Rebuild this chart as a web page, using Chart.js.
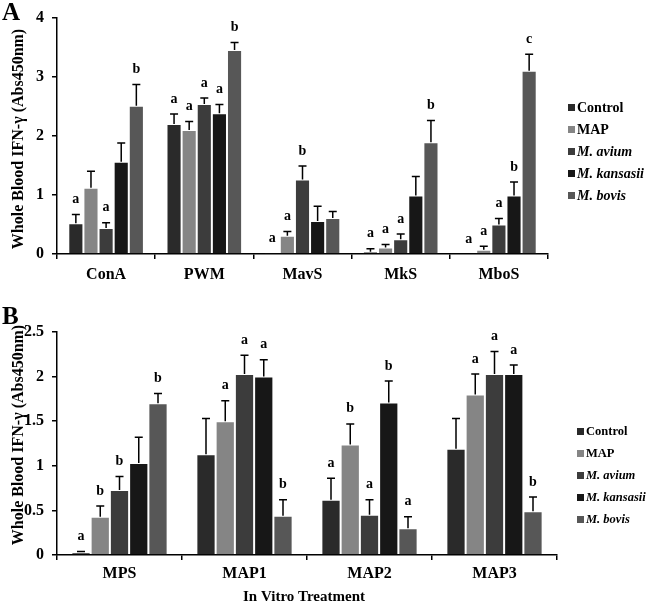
<!DOCTYPE html>
<html>
<head>
<meta charset="utf-8">
<script src="https://cdn.jsdelivr.net/npm/chart.js@4"></script>
<style>
  body { margin: 0; background: #fff; }
  #wrapA { position: absolute; left: 0; top: 0; width: 650px; height: 290px; }
  #wrapB { position: absolute; left: 0; top: 290px; width: 650px; height: 314px; }
</style>
</head>
<body>
<div id="wrapA"><canvas id="chartA"></canvas></div>
<div id="wrapB"><canvas id="chartB"></canvas></div>
<script>
// ---- data ----
var seriesNames = ['Control', 'MAP', 'M. avium', 'M. kansasii', 'M. bovis'];
var seriesColors = ['#2a2a2a', '#858585', '#3c3c3c', '#171717', '#575757'];

// panel A
var stimA = ['ConA', 'PWM', 'MavS', 'MkS', 'MboS'];
var yTicksA = ['0', '1', '2', '3', '4'];
var controlA  = [0.52, 2.20, 0.01, 0.04, 0.00];
var mapA      = [1.12, 2.10, 0.31, 0.11, 0.07];
var aviumA    = [0.44, 2.54, 1.26, 0.25, 0.50];
var kansasiiA = [1.56, 2.38, 0.56, 0.99, 0.99];
var bovisA    = [2.51, 3.45, 0.61, 1.89, 3.10];
// error bars (upper only)
var controlErrA  = [0.15, 0.17, 0.00, 0.05, 0.00];
var mapErrA      = [0.28, 0.14, 0.07, 0.05, 0.06];
var aviumErrA    = [0.09, 0.10, 0.23, 0.09, 0.10];
var kansasiiErrA = [0.32, 0.15, 0.25, 0.32, 0.23];
var bovisErrA    = [0.36, 0.13, 0.11, 0.37, 0.28];
// significance letters
var controlLetA  = ['a', 'a', 'a', 'a', 'a'];
var mapLetA      = ['',  'a', 'a', 'a', 'a'];
var aviumLetA    = ['a', 'a', 'b', 'a', 'a'];
var kansasiiLetA = ['',  'a', '',  '',  'b'];
var bovisLetA    = ['b', 'b', '',  'b', 'c'];

// panel B
var stimB = ['MPS', 'MAP1', 'MAP2', 'MAP3'];
var yTicksB = ['0', '0.5', '1', '1.5', '2', '2.5'];
var controlB  = [0.03, 1.13, 0.62, 1.19];
var mapB      = [0.43, 1.50, 1.24, 1.80];
var aviumB    = [0.73, 2.03, 0.45, 2.03];
var kansasiiB = [1.03, 2.00, 1.71, 2.03];
var bovisB    = [1.70, 0.44, 0.30, 0.49];
var controlErrB  = [0.01, 0.40, 0.24, 0.34];
var mapErrB      = [0.12, 0.23, 0.23, 0.23];
var aviumErrB    = [0.15, 0.21, 0.17, 0.25];
var kansasiiErrB = [0.29, 0.19, 0.24, 0.10];
var bovisErrB    = [0.11, 0.18, 0.13, 0.16];
var controlLetB  = ['a', '',  'a', ''];
var mapLetB      = ['b', 'a', 'b', 'a'];
var aviumLetB    = ['b', 'a', 'a', 'a'];
var kansasiiLetB = ['',  'a', 'b', 'a'];
var bovisLetB    = ['b', 'b', 'a', 'b'];

var serif = "'Liberation Serif', 'Times New Roman', serif";

// draws error bars, letters, legend and titles
var decorPlugin = {
  id: 'decor',
  afterDatasetsDraw: function(chart) {
    var ctx = chart.ctx;
    var p = chart.options.plugins.decor;
    var yScale = chart.scales.y;
    ctx.save();
    chart.data.datasets.forEach(function(ds, i) {
      var meta = chart.getDatasetMeta(i);
      meta.data.forEach(function(bar, j) {
        var err = ds.errors[j];
        var yTop = yScale.getPixelForValue(ds.data[j] + err);
        if (err > 0) {
          ctx.strokeStyle = '#000';
          ctx.lineWidth = 1.5;
          ctx.beginPath();
          ctx.moveTo(bar.x, bar.y);
          ctx.lineTo(bar.x, yTop);
          ctx.moveTo(bar.x - 4, yTop);
          ctx.lineTo(bar.x + 4, yTop);
          ctx.stroke();
        }
        if (ds.letters[j]) {
          ctx.fillStyle = '#000';
          ctx.font = 'bold 14px ' + serif;
          ctx.textAlign = 'center';
          ctx.textBaseline = 'middle';
          ctx.fillText(ds.letters[j], bar.x, yTop - 15);
        }
      });
    });

    // legend
    chart.data.datasets.forEach(function(ds, i) {
      var y = p.legendY + i * p.legendGap;
      ctx.fillStyle = ds.backgroundColor;
      ctx.fillRect(p.legendX, y - 4, 7, 7);
      ctx.fillStyle = '#000';
      ctx.font = (i >= 2 ? 'italic ' : '') + 'bold ' + p.legendSize + 'px ' + serif;
      ctx.textAlign = 'left';
      ctx.textBaseline = 'middle';
      ctx.fillText(ds.label, p.legendX + 9, y);
    });

    // panel letter
    ctx.font = 'bold 25px ' + serif;
    ctx.textAlign = 'left';
    ctx.textBaseline = 'top';
    ctx.fillText(p.panel, 2, p.panelY);

    // y title
    ctx.save();
    ctx.translate(19, p.yTitleY);
    ctx.rotate(-Math.PI / 2);
    ctx.font = 'bold 16px ' + serif;
    ctx.textAlign = 'center';
    ctx.textBaseline = 'middle';
    ctx.fillText('Whole Blood IFN-\u03b3 (Abs450nm)', 0, 0);
    ctx.restore();

    if (p.xTitle) {
      ctx.font = 'bold 15px ' + serif;
      ctx.textAlign = 'center';
      ctx.textBaseline = 'middle';
      ctx.fillText(p.xTitle, 304, p.xTitleY);
    }
    ctx.restore();
  }
};

function buildDatasets(values, errors, letters) {
  return seriesNames.map(function(name, i) {
    return {
      label: name,
      data: values[i],
      errors: errors[i],
      letters: letters[i],
      backgroundColor: seriesColors[i],
      borderColor: 'rgba(255,255,255,0.35)',
      borderWidth: 1,
      categoryPercentage: 0.77,
      barPercentage: 1.0
    };
  });
}

function makePanel(id, labels, datasets, yMax, step, yTicks, layout, decor) {
  var ctx = document.getElementById(id).getContext('2d');
  return new Chart(ctx, {
    type: 'bar',
    data: { labels: labels, datasets: datasets },
    plugins: [decorPlugin],
    options: {
      responsive: true,
      maintainAspectRatio: false,
      animation: false,
      layout: { padding: { left: 0, top: layout.top, right: layout.right, bottom: 0 } },
      plugins: {
        legend: { display: false },
        tooltip: { enabled: false },
        decor: decor
      },
      scales: {
        x: {
          afterFit: function(scale) { scale.height = layout.xHeight; },
          grid: { display: true, drawOnChartArea: false, drawTicks: true, tickLength: 5, color: '#000', lineWidth: 1.5 },
          border: { display: true, color: '#000', width: 1.5 },
          ticks: { color: '#000', font: { family: serif, size: 16, weight: 'bold' }, padding: layout.xPad }
        },
        y: {
          min: 0,
          max: yMax,
          afterFit: function(scale) { scale.width = 57; },
          grid: { display: true, drawOnChartArea: false, drawTicks: true, tickLength: 5, color: '#000', lineWidth: 1.5 },
          border: { display: true, color: '#000', width: 1.5 },
          ticks: {
            stepSize: step,
            color: '#000',
            padding: 8,
            font: { family: serif, size: 16, weight: 'bold' },
            callback: function(v, idx) { return yTicks[idx]; }
          }
        }
      }
    }
  });
}

makePanel('chartA', stimA,
  buildDatasets([controlA, mapA, aviumA, kansasiiA, bovisA],
                [controlErrA, mapErrA, aviumErrA, kansasiiErrA, bovisErrA],
                [controlLetA, mapLetA, aviumLetA, kansasiiLetA, bovisLetA]),
  4, 1, yTicksA,
  { top: 15, right: 102, xHeight: 36, xPad: 6 },
  { panel: 'A', panelY: 1, yTitleY: 139, legendX: 568, legendY: 108, legendGap: 22, legendSize: 14 });

makePanel('chartB', stimB,
  buildDatasets([controlB, mapB, aviumB, kansasiiB, bovisB],
                [controlErrB, mapErrB, aviumErrB, kansasiiErrB, bovisErrB],
                [controlLetB, mapLetB, aviumLetB, kansasiiLetB, bovisLetB]),
  2.5, 0.5, yTicksB,
  { top: 42, right: 93, xHeight: 49, xPad: 4 },
  { panel: 'B', panelY: 15, yTitleY: 145, legendX: 577, legendY: 142, legendGap: 22, legendSize: 12.5,
    xTitle: 'In Vitro Treatment', xTitleY: 307 });
</script>
</body>
</html>
